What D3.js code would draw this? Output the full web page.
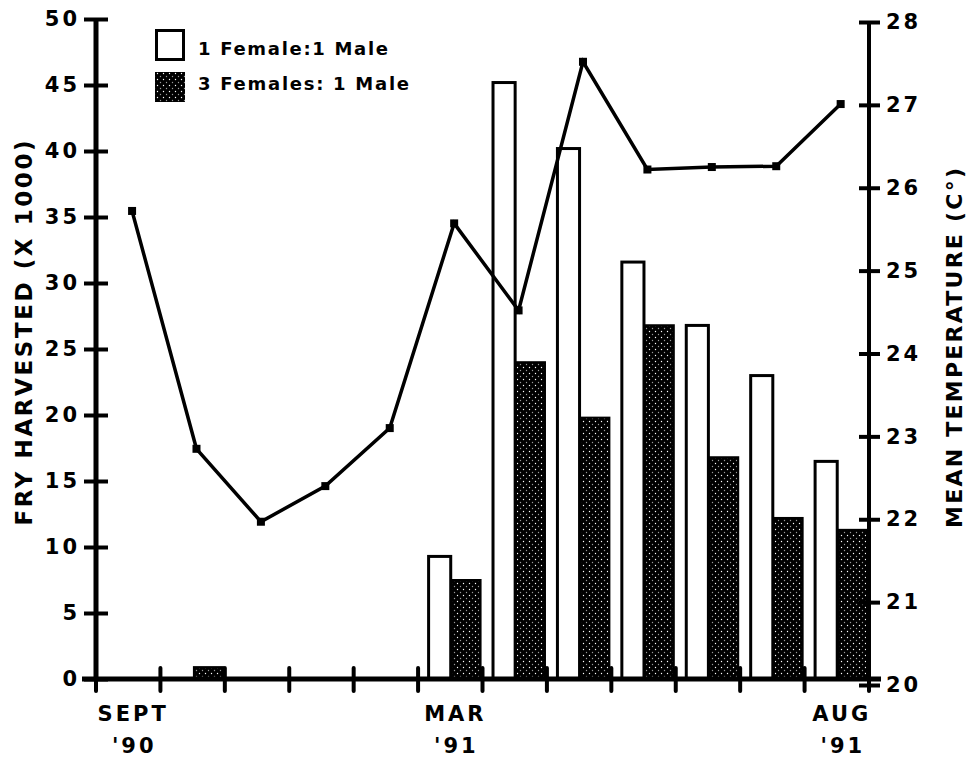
<!DOCTYPE html>
<html>
<head>
<meta charset="utf-8">
<script src="https://cdn.jsdelivr.net/npm/d3@7"></script>
<style>
  body { margin: 0; background: #fff; overflow: hidden; }
  text { font-family: "DejaVu Sans", sans-serif; font-weight: bold; fill: #000; }
</style>
</head>
<body>
<script>
// sampling periods, Sept '90 .. Aug '91
const periods = d3.range(12);
const periodLabels = [
  { i: 0, lines: ['SEPT', "'90"] },
  { i: 5, lines: ['MAR', "'91"] },
  { i: 11, lines: ['AUG', "'91"] },
];
// fry harvested (x 1000), null = nothing harvested
const oneFemale = [null, null, null, null, null, 9.4, 45.3, 40.3, 31.7, 26.9, 23.1, 16.6];
const threeFemales = [null, 0.9, null, null, null, 7.5, 24.0, 19.8, 26.8, 16.8, 12.2, 11.3];
// mean temperature (C)
const temperature = [25.72, 22.85, 21.97, 22.40, 23.10, 25.57, 24.52, 27.52, 26.22, 26.25, 26.26, 27.01];
const seriesNames = ['1 Female:1 Male', '3 Females: 1 Male'];

const width = 968;
const height = 758;
const margin = { top: 19, right: 99, bottom: 79, left: 96 };

const svg = d3.select('body').append('svg')
  .attr('width', width)
  .attr('height', height);

const defs = svg.append('defs');
const pat = defs.append('pattern')
  .attr('id', 'dots')
  .attr('patternUnits', 'userSpaceOnUse')
  .attr('width', 6)
  .attr('height', 6);
pat.append('rect').attr('width', 6).attr('height', 6).attr('fill', '#000');
pat.append('circle').attr('cx', 1.5).attr('cy', 1.5).attr('r', 0.7).attr('fill', '#fff');
pat.append('circle').attr('cx', 4.5).attr('cy', 4.5).attr('r', 0.7).attr('fill', '#999');

const x = d3.scaleLinear()
  .domain([0, 12])
  .range([margin.left, width - margin.right]);
const bw = x(1) - x(0);

const y = d3.scaleLinear()
  .domain([0, 50])
  .range([679, margin.top]);

const yT = d3.scaleLinear()
  .domain([20, 28])
  .range([685, 22]);

const base = y(0);

// bars
svg.append('g')
  .selectAll('rect')
  .data(periods.filter(i => oneFemale[i] != null))
  .join('rect')
  .attr('x', i => x(i) + bw * 0.14 + 1.5)
  .attr('y', i => y(oneFemale[i]) + 1.5)
  .attr('width', bw * 0.39 - 3)
  .attr('height', i => base - y(oneFemale[i]) - 1.5)
  .attr('fill', '#fff')
  .attr('stroke', '#000')
  .attr('stroke-width', 3);

svg.append('g')
  .selectAll('rect')
  .data(periods.filter(i => threeFemales[i] != null))
  .join('rect')
  .attr('x', i => x(i) + bw * 0.52)
  .attr('y', i => y(threeFemales[i]))
  .attr('width', bw * 0.45)
  .attr('height', i => base - y(threeFemales[i]))
  .attr('fill', 'url(#dots)')
  .attr('stroke', '#000')
  .attr('stroke-width', 2);

// temperature line
const line = d3.line()
  .x((d, i) => x(i) + bw * 0.56)
  .y(d => yT(d));

svg.append('path')
  .datum(temperature)
  .attr('d', line)
  .attr('fill', 'none')
  .attr('stroke', '#000')
  .attr('stroke-width', 3.5);

svg.append('g')
  .selectAll('rect')
  .data(temperature)
  .join('rect')
  .attr('x', (d, i) => x(i) + bw * 0.56 - 4)
  .attr('y', d => yT(d) - 4)
  .attr('width', 8)
  .attr('height', 8)
  .attr('fill', '#000');

// left axis
const gl = svg.append('g')
  .attr('transform', `translate(${margin.left},0)`)
  .call(d3.axisLeft(y).tickValues(d3.range(0, 51, 5)).tickSize(12).tickPadding(4));
gl.select('.domain').attr('stroke-width', 5).attr('d', `M0,${y(50)}V${base + 2}`);
gl.selectAll('.tick line').attr('stroke-width', 4).attr('x2', -12).attr('x1', 12);
gl.selectAll('.tick text').attr('font-size', 21).attr('letter-spacing', 3);

// right axis
const gr = svg.append('g')
  .attr('transform', `translate(${width - margin.right},0)`)
  .call(d3.axisRight(yT).ticks(8).tickSize(11).tickPadding(6));
gr.select('.domain').attr('stroke-width', 4).attr('d', `M0,${yT(28)}V${yT(20)}`);
gr.selectAll('.tick line').attr('stroke-width', 4).attr('x2', 11).attr('x1', -10);
gr.selectAll('.tick text').attr('font-size', 21).attr('letter-spacing', 3);

// bottom axis
const gb = svg.append('g');
gb.append('line')
  .attr('x1', x(0) - 14)
  .attr('x2', x(12) + 12)
  .attr('y1', base)
  .attr('y2', base)
  .attr('stroke', '#000')
  .attr('stroke-width', 5);
gb.selectAll('.tk')
  .data(d3.range(13))
  .join('line')
  .attr('class', 'tk')
  .attr('x1', d => x(d))
  .attr('x2', d => x(d))
  .attr('y1', base - 11)
  .attr('y2', base + 12)
  .attr('stroke', '#000')
  .attr('stroke-width', 4)
  .attr('stroke-linecap', 'round');

const lbl = gb.selectAll('.lbl')
  .data(periodLabels)
  .join('text')
  .attr('class', 'lbl')
  .attr('font-size', 21)
  .attr('letter-spacing', 3)
  .attr('text-anchor', 'middle');
lbl.append('tspan')
  .attr('x', d => x(d.i) + bw / 2 + 5)
  .attr('y', 721)
  .text(d => d.lines[0]);
lbl.append('tspan')
  .attr('x', d => x(d.i) + bw / 2 + 6)
  .attr('y', 753)
  .text(d => d.lines[1]);

// axis titles
svg.append('text')
  .attr('transform', 'translate(32,333) rotate(-90)')
  .attr('text-anchor', 'middle')
  .attr('font-size', 23)
  .attr('textLength', 385)
  .attr('lengthAdjust', 'spacing')
  .text('FRY HARVESTED (X 1000)');

svg.append('text')
  .attr('transform', 'translate(962,348) rotate(-90)')
  .attr('text-anchor', 'middle')
  .attr('font-size', 22)
  .attr('textLength', 360)
  .attr('lengthAdjust', 'spacing')
  .text('MEAN TEMPERATURE (C\u00b0)');

// legend
const legend = svg.append('g');
legend.append('rect')
  .attr('x', 156.5).attr('y', 30.5).attr('width', 27).attr('height', 29)
  .attr('fill', '#fff').attr('stroke', '#000').attr('stroke-width', 3);
legend.append('rect')
  .attr('x', 155).attr('y', 72).attr('width', 30).attr('height', 30)
  .attr('fill', 'url(#dots)');
legend.selectAll('text')
  .data(seriesNames)
  .join('text')
  .attr('x', 198)
  .attr('y', (d, i) => [55, 90][i])
  .attr('font-size', 18)
  .attr('textLength', (d, i) => [190, 211][i])
  .attr('lengthAdjust', 'spacing')
  .text(d => d);
</script>
</body>
</html>
